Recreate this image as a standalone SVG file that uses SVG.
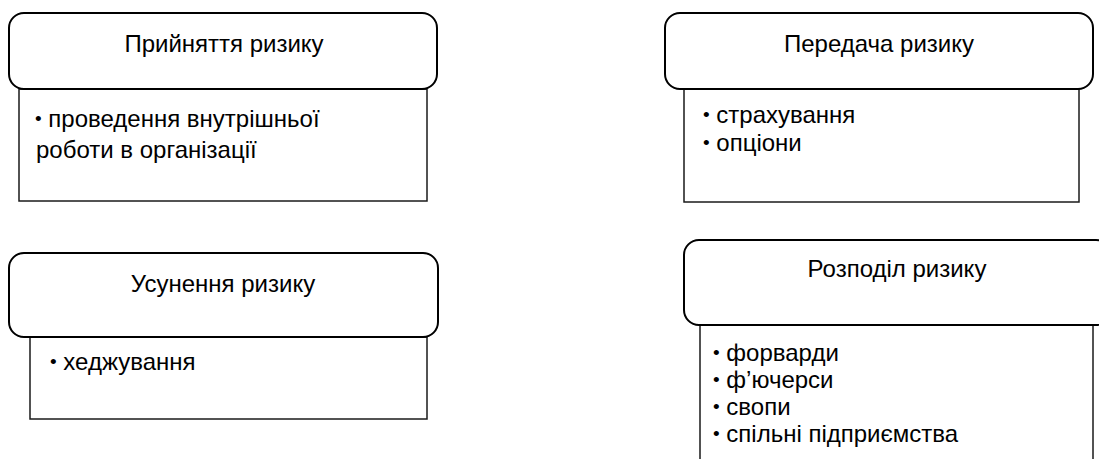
<svg xmlns="http://www.w3.org/2000/svg" width="1099" height="459" viewBox="0 0 1099 459">
<style>
.bg{fill:#ffffff}
.body{fill:#ffffff;stroke:#1a1a1a;stroke-width:1.5}
.head{fill:#ffffff;stroke:#000000;stroke-width:2}
.t{font-family:"Liberation Sans",Arial,sans-serif;font-size:24px;fill:#000000}
.c{text-anchor:middle}
.b{font-size:19px}
</style>
<rect class="bg" x="0" y="0" width="1099" height="459"/>
<g id="connectors"></g>
<g id="node-acceptance">
<rect class="body" x="19" y="89" width="408" height="112"/>
<rect class="head" x="9" y="13" width="428" height="76" rx="15" ry="15"/>
<text class="t c" x="224" y="52">Прийняття ризику</text>
<text class="t" x="35" y="127"><tspan class="b" dy="-2">•</tspan><tspan dy="2"> проведення внутрішньої</tspan></text>
<text class="t" x="36" y="158">роботи в організації</text>
</g>
<g id="node-transfer">
<rect class="body" x="684" y="89" width="395" height="113"/>
<rect class="head" x="665" y="13" width="428" height="76" rx="15" ry="15"/>
<text class="t c" x="879" y="52">Передача ризику</text>
<text class="t" x="703" y="123"><tspan class="b" dy="-2">•</tspan><tspan dy="2"> страхування</tspan></text>
<text class="t" x="703" y="151"><tspan class="b" dy="-2">•</tspan><tspan dy="2"> опціони</tspan></text>
</g>
<g id="node-elimination">
<rect class="body" x="30" y="337" width="397" height="82"/>
<rect class="head" x="9" y="253" width="429" height="84" rx="15" ry="15"/>
<text class="t c" x="223" y="292">Усунення ризику</text>
<text class="t" x="50" y="370"><tspan class="b" dy="-2">•</tspan><tspan dy="2"> хеджування</tspan></text>
</g>
<g id="node-distribution">
<rect class="body" x="700" y="325" width="393" height="150"/>
<rect class="head" x="684" y="240" width="427" height="85" rx="15" ry="15"/>
<text class="t c" x="897" y="277">Розподіл ризику</text>
<text class="t" x="713" y="361"><tspan class="b" dy="-2">•</tspan><tspan dy="2"> форварди</tspan></text>
<text class="t" x="713" y="388"><tspan class="b" dy="-2">•</tspan><tspan dy="2"> ф’ючерси</tspan></text>
<text class="t" x="713" y="415"><tspan class="b" dy="-2">•</tspan><tspan dy="2"> свопи</tspan></text>
<text class="t" x="713" y="442"><tspan class="b" dy="-2">•</tspan><tspan dy="2"> спільні підприємства</tspan></text>
</g>
</svg>
